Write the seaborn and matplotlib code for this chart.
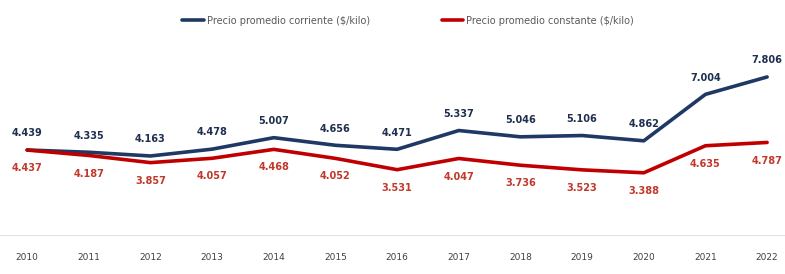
"""Precio promedio corriente vs constante, 2010-2022."""

import matplotlib
matplotlib.use("Agg")
import matplotlib.pyplot as plt
import pandas as pd
import seaborn as sns

years = [2010, 2011, 2012, 2013, 2014, 2015, 2016, 2017, 2018, 2019, 2020, 2021, 2022]
corriente = [4.439, 4.335, 4.163, 4.478, 5.007, 4.656, 4.471, 5.337, 5.046, 5.106, 4.862, 7.004, 7.806]
constante = [4.437, 4.187, 3.857, 4.057, 4.468, 4.052, 3.531, 4.047, 3.736, 3.523, 3.388, 4.635, 4.787]

name_cur = "Precio promedio corriente ($/kilo)"
name_con = "Precio promedio constante ($/kilo)"
blue = "#1F3864"
red = "#C00000"

df = pd.DataFrame({"year": years * 2,
                   "precio": corriente + constante,
                   "serie": [name_cur] * len(years) + [name_con] * len(years)})

sns.set_theme(style="white")
plt.rcParams["font.family"] = ["DejaVu Sans"]

fig = plt.figure(figsize=(7.85, 2.74), dpi=100)
ax = fig.add_axes([0, 39 / 274, 1, 195 / 274])

sns.lineplot(data=df, x="year", y="precio", hue="serie",
             palette={name_cur: blue, name_con: red}, linewidth=2.6, ax=ax, legend=True)

ax.set_xlim(2009.56, 2022.29)
ax.set_ylim(0.52, 9.51)

for x, y in zip(years, corriente):
    ax.annotate(f"{y:.3f}", (x, y), xytext=(0, 12), textcoords="offset points",
                ha="center", va="center", fontsize=7, fontweight="bold", color="#1F2F4F")
for x, y in zip(years, constante):
    ax.annotate(f"{y:.3f}", (x, y), xytext=(0, -13), textcoords="offset points",
                ha="center", va="center", fontsize=7, fontweight="bold", color="#C0392B")

ax.set_xticks(years)
ax.set_xticklabels([str(y) for y in years], fontsize=6.5, color="#404040")
ax.tick_params(axis="x", length=0, pad=13)
ax.set_yticks([])
ax.set_xlabel("")
ax.set_ylabel("")
for side in ["top", "left", "right"]:
    ax.spines[side].set_visible(False)
ax.spines["bottom"].set_color("#E3E3E3")
ax.spines["bottom"].set_linewidth(0.8)

handles, labels = ax.get_legend_handles_labels()
ax.get_legend().remove()
fig.legend(handles, labels, loc="center", bbox_to_anchor=(0.52, 0.925), ncol=2,
           frameon=False, fontsize=7, handlelength=2.2, handletextpad=0.3,
           columnspacing=7.4, labelcolor="#595959")

fig.savefig("out.png", dpi=100)
